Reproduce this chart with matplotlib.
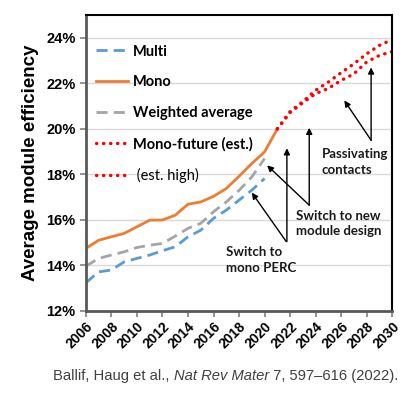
import matplotlib
matplotlib.use("Agg")
import matplotlib.pyplot as plt
import matplotlib.ticker as mticker

# data (module efficiency, %)
years = list(range(2006, 2021))
multi = [13.24, 13.72, 13.80, 14.16, 14.31, 14.46, 14.65, 14.82, 15.26, 15.55,
         16.07, 16.43, 16.87, 17.31, 17.82]
mono_years = list(range(2006, 2022))
mono = [14.75, 15.11, 15.26, 15.41, 15.70, 15.99, 16.00, 16.21, 16.69, 16.79,
        17.04, 17.38, 17.92, 18.48, 18.99, 20.0]
weighted = [13.97, 14.31, 14.46, 14.60, 14.79, 14.89, 14.97, 15.29, 15.63, 15.85,
            16.36, 16.79, 17.30, 17.89, 18.70]
future_years = list(range(2021, 2031))
future_est = [20.0, 20.72, 21.15, 21.55, 21.78, 22.13, 22.42, 22.94, 23.23, 23.40]
future_high = [20.0, 20.76, 21.20, 21.70, 22.06, 22.47, 22.86, 23.30, 23.67, 23.93]

xticks = list(range(2006, 2031, 2))
yticks = [12, 14, 16, 18, 20, 22, 24]

fig = plt.figure(figsize=(4.15, 3.98), dpi=100)
ax = fig.add_axes([0.207, 0.2186, 0.738, 0.7434])

ax.plot(years, multi, color="#5B9BD5", lw=2.0, dashes=(4, 2.2), label="Multi")
ax.plot(mono_years, mono, color="#ED7D31", lw=2.0, label="Mono")
ax.plot(years, weighted, color="#A5A5A5", lw=2.0, dashes=(4, 2.2), label="Weighted average")
ax.plot(future_years, future_est, color="#FF0000", lw=2.4, linestyle=(0, (0.1, 2.0)),
        dash_capstyle="round", label="Mono-future (est.)")
ax.plot(future_years, future_high, color="#FF0000", lw=2.4, linestyle=(0, (0.1, 2.0)),
        dash_capstyle="round", label=" (est. high)")

ax.set_xlim(2006, 2030)
ax.set_ylim(12, 25)
ax.set_xticks(xticks)
ax.set_yticks(yticks)
ax.yaxis.set_major_formatter(mticker.FuncFormatter(lambda v, p: f"{v:.0f}%"))
ax.grid(axis="y", color="#D9D9D9", lw=1.0)
ax.set_axisbelow(True)

for lab in ax.get_xticklabels():
    lab.set_rotation(45)
    lab.set_ha("right")
    lab.set_rotation_mode("anchor")
    lab.set_fontweight("bold")
    lab.set_family("Liberation Sans")
    lab.set_fontsize(10)
for lab in ax.get_yticklabels():
    lab.set_fontweight("bold")
    lab.set_family("Liberation Sans")
    lab.set_fontsize(10.5)
ax.tick_params(axis="both", direction="out", length=4, color="#808080", width=1.2)
ax.tick_params(axis="x", pad=2)

for s in ["left", "bottom"]:
    ax.spines[s].set_color("#595959")
    ax.spines[s].set_linewidth(2.0)
for s in ["top", "right"]:
    ax.spines[s].set_color("black")
    ax.spines[s].set_linewidth(1.5)

ax.set_ylabel("Average module efficiency", fontsize=13.5, fontweight="bold",
              family="Liberation Sans", labelpad=5)

leg = ax.legend(loc="upper left", frameon=False, handlelength=2.2, handletextpad=0.3,
                labelspacing=1.15, borderaxespad=0.3, bbox_to_anchor=(0.0, 0.935),
                prop={"family": "Lato", "weight": "bold", "size": 10.5})
leg.get_texts()[4].set_fontweight("normal")

# annotations
afont = {"family": "Lato", "weight": "bold", "size": 9.5, "color": "#1a1a1a"}
arrow = dict(arrowstyle="-|>", color="black", lw=1.0, mutation_scale=9, shrinkA=0, shrinkB=0)

ax.text(2017.0, 14.25, "Switch to\nmono PERC", va="center", ha="left", linespacing=1.35, **afont)
ax.annotate("", xy=(2019.0, 17.2), xytext=(2021.7, 15.05), arrowprops=arrow)
ax.annotate("", xy=(2021.75, 19.15), xytext=(2021.75, 15.05), arrowprops=arrow)

ax.text(2022.5, 15.85, "Switch to new\nmodule design", va="center", ha="left", linespacing=1.35, **afont)
ax.annotate("", xy=(2020.2, 18.4), xytext=(2023.5, 16.65), arrowprops=arrow)
ax.annotate("", xy=(2023.5, 20.05), xytext=(2023.5, 16.65), arrowprops=arrow)

ax.text(2024.5, 18.55, "Passivating\ncontacts", va="center", ha="left", linespacing=1.35, **afont)
ax.annotate("", xy=(2026.25, 21.25), xytext=(2028.35, 19.5), arrowprops=arrow)
ax.annotate("", xy=(2028.35, 22.7), xytext=(2028.35, 19.5), arrowprops=arrow)

# caption
cap = {"fontsize": 10.6, "color": "#404040", "family": "Liberation Sans"}
t1 = fig.text(0.128, 0.045, "Ballif, Haug et al., ", ha="left", va="baseline", **cap)
t2 = ax.annotate("Nat Rev Mater", xy=(1, 0), xycoords=t1, va="bottom", ha="left",
                 style="italic", annotation_clip=False, **cap)
t3 = ax.annotate(" 7, 597\u2013616 (2022).", xy=(1, 0), xycoords=t2, va="bottom", ha="left",
                 annotation_clip=False, **cap)

fig.savefig("out.png", dpi=100)
